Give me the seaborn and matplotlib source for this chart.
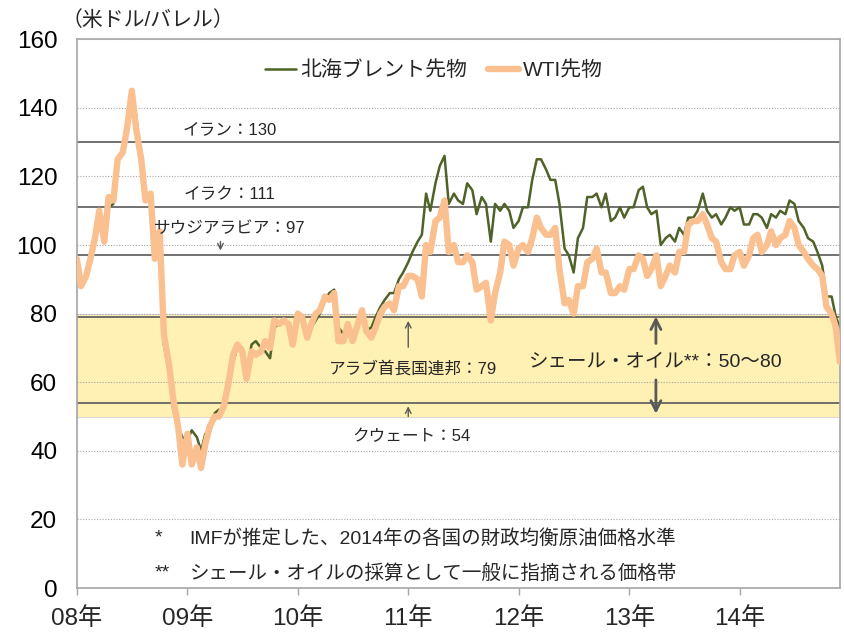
import matplotlib
matplotlib.use("Agg")
import matplotlib.pyplot as plt
import pandas as pd
import seaborn as sns

# sampled on the 1st and 15th of each month, last point = 2014-11-28
wti_2008 = [96, 88, 91, 96, 102, 110, 101, 114, 113, 125, 127, 134,
            145, 134, 125, 113, 115, 96, 104, 74, 65, 55, 47, 36]
wti_2009 = [45, 36, 41, 35, 42, 47, 50, 50, 53, 59, 68, 71,
            69, 61, 69, 68, 69, 72, 70, 78, 77, 78, 77, 71]
wti_2010 = [80, 79, 73, 77, 80, 81, 85, 84, 86, 72, 72, 77,
            72, 76, 81, 75, 73, 76, 80, 82, 83, 81, 88, 88]
wti_2011 = [91, 91, 90, 85, 100, 98, 107, 108, 113, 98, 100, 95,
            95, 97, 95, 87, 88, 89, 78, 86, 92, 101, 100, 94]
wti_2012 = [99, 100, 98, 102, 108, 105, 103, 103, 105, 93, 83, 84,
            80, 88, 88, 95, 96, 99, 92, 92, 86, 86, 88, 87]
wti_2013 = [93, 93, 97, 96, 91, 93, 97, 88, 91, 94, 92, 98,
            98, 106, 107, 107, 109, 106, 102, 101, 95, 93, 93, 97]
wti_2014 = [98, 94, 97, 102, 103, 98, 100, 104, 100, 102, 103, 107,
            105, 100, 98, 96, 94, 93, 91, 82, 80, 76, 66]

brent_2008 = [96, 89, 91, 96, 101, 106, 102, 111, 112, 124, 127, 133,
              144, 138, 124, 113, 113, 96, 98, 71, 63, 52, 47, 44]
brent_2009 = [43, 46, 44, 40, 45, 45, 51, 52, 52, 58, 66, 70,
              70, 63, 71, 72, 70, 69, 67, 76, 77, 78, 77, 73]
brent_2010 = [78, 79, 74, 76, 78, 80, 84, 86, 87, 76, 74, 77,
              73, 75, 80, 75, 76, 79, 82, 84, 86, 86, 90, 92]
brent_2011 = [95, 98, 101, 103, 115, 110, 118, 123, 126, 112, 115, 113,
              112, 118, 116, 109, 114, 112, 101, 112, 110, 112, 110, 105]
brent_2012 = [107, 111, 111, 119, 125, 125, 122, 119, 119, 112, 99, 97,
              92, 102, 105, 114, 114, 115, 111, 115, 107, 108, 111, 108]
brent_2013 = [111, 111, 116, 117, 111, 109, 110, 100, 102, 103, 101, 105,
              103, 108, 108, 110, 115, 110, 108, 109, 106, 108, 111, 110]
brent_2014 = [111, 106, 106, 109, 109, 108, 105, 109, 108, 110, 109, 113,
              112, 107, 105, 102, 101, 98, 94, 85, 85, 79, 76]

dates = list(pd.date_range("2008-01-01", "2014-11-15", freq="SMS")) + [pd.Timestamp("2014-11-28")]
wti = wti_2008 + wti_2009 + wti_2010 + wti_2011 + wti_2012 + wti_2013 + wti_2014
brent = brent_2008 + brent_2009 + brent_2010 + brent_2011 + brent_2012 + brent_2013 + brent_2014

year_ticks = ["2008-01-01", "2009-01-01", "2010-01-01", "2011-01-01",
              "2012-01-01", "2013-01-01", "2014-01-01"]
year_labels = ["08年", "09年", "10年", "11年", "12年", "13年", "14年"]

# fiscal break-even levels (IMF) and shale band
breakeven = {"イラン": 130, "イラク": 111, "サウジアラビア": 97,
             "アラブ首長国連邦": 79, "クウェート": 54}
shale_low, shale_high = 50, 80

sns.set_style("white")
plt.rcParams["font.family"] = ["Liberation Sans", "Noto Sans CJK JP"]

fig = plt.figure(figsize=(8.44, 6.33), dpi=100)
ax = fig.add_axes([0.091, 0.071, 0.904, 0.867])

ax.axhspan(shale_low, shale_high, facecolor="#FFF0B3", edgecolor="#D9D9D9", lw=0.8, zorder=0.3)
for v in breakeven.values():
    ax.axhline(v, color="#595959", lw=1.2, zorder=1.8)

sns.lineplot(x=dates, y=brent, ax=ax, color="#4F6228", lw=1.8, label="北海ブレント先物", zorder=2)
sns.lineplot(x=dates, y=wti, ax=ax, color="#FAC090", lw=4.6, label="WTI先物", zorder=3)

ax.set_xlim(pd.Timestamp("2008-01-01"), pd.Timestamp("2014-11-28"))
ax.set_ylim(0, 160)
ax.set_yticks(range(0, 161, 20))
ax.set_xticks(pd.to_datetime(year_ticks))
ax.set_xticklabels(year_labels)
ax.set_xlabel("")
ax.set_ylabel("")
ax.tick_params(axis="y", labelsize=17.5, length=0, pad=14, labelcolor="#000000")
ax.tick_params(axis="x", labelsize=17.5, length=5, width=1, color="#A6A6A6",
               direction="out", pad=9, bottom=True)
ax.set_axisbelow(True)
ax.yaxis.grid(True, ls=(0, (1, 1.5)), color="#A6A6A6", lw=0.8)
for s in ax.spines.values():
    s.set_color("#A6A6A6")
    s.set_linewidth(1.2)

ax.legend(loc="center", bbox_to_anchor=(0.468, 0.943), ncol=2, frameon=False,
          fontsize=15, handlelength=1.5, handletextpad=0.2, columnspacing=1.0)

fig.text(0.073, 0.968, "（米ドル/バレル）", fontsize=15, va="center", ha="left")

lbl_x = pd.Timestamp("2009-05-20")
ax.text(lbl_x, 131.5, "イラン：130", fontsize=12, ha="center", va="bottom")
ax.text(lbl_x, 112.5, "イラク：111", fontsize=12, ha="center", va="bottom")
ax.text(lbl_x, 102.5, "サウジアラビア：97", fontsize=12, ha="center", va="bottom")
ax.annotate("", xy=(pd.Timestamp("2009-04-20"), 97.6), xytext=(pd.Timestamp("2009-04-20"), 101.8),
            arrowprops=dict(arrowstyle="->", color="#595959", lw=1, mutation_scale=10))

uae_x = pd.Timestamp("2011-01-01")
ax.text(pd.Timestamp("2011-01-18"), 63.8, "アラブ首長国連邦：79", fontsize=12, ha="center", va="center")
ax.annotate("", xy=(uae_x, 78.7), xytext=(uae_x, 69.4),
            arrowprops=dict(arrowstyle="->", color="#595959", lw=1, mutation_scale=10))
ax.text(pd.Timestamp("2011-01-12"), 44.3, "クウェート：54", fontsize=12, ha="center", va="center")
ax.annotate("", xy=(uae_x, 53.8), xytext=(uae_x, 49.2),
            arrowprops=dict(arrowstyle="->", color="#595959", lw=1, mutation_scale=10))

sh_x = pd.Timestamp("2013-03-30")
ax.text(sh_x, 66, "シェール・オイル**：50〜80", fontsize=14, ha="center", va="center")
ax.annotate("", xy=(sh_x, shale_high), xytext=(sh_x, 70.5),
            arrowprops=dict(arrowstyle="->", color="#595959", lw=2, mutation_scale=18))
ax.annotate("", xy=(sh_x, shale_low), xytext=(sh_x, 61.5),
            arrowprops=dict(arrowstyle="->", color="#595959", lw=2, mutation_scale=18))

ax.text(0.102, 0.091, "*", transform=ax.transAxes, fontsize=14, va="center")
ax.text(0.148, 0.091, "IMFが推定した、2014年の各国の財政均衡原油価格水準",
        transform=ax.transAxes, fontsize=14, va="center")
ax.text(0.102, 0.027, "**", transform=ax.transAxes, fontsize=14, va="center")
ax.text(0.148, 0.027, "シェール・オイルの採算として一般に指摘される価格帯",
        transform=ax.transAxes, fontsize=14, va="center")

fig.savefig("out.png", dpi=100)
